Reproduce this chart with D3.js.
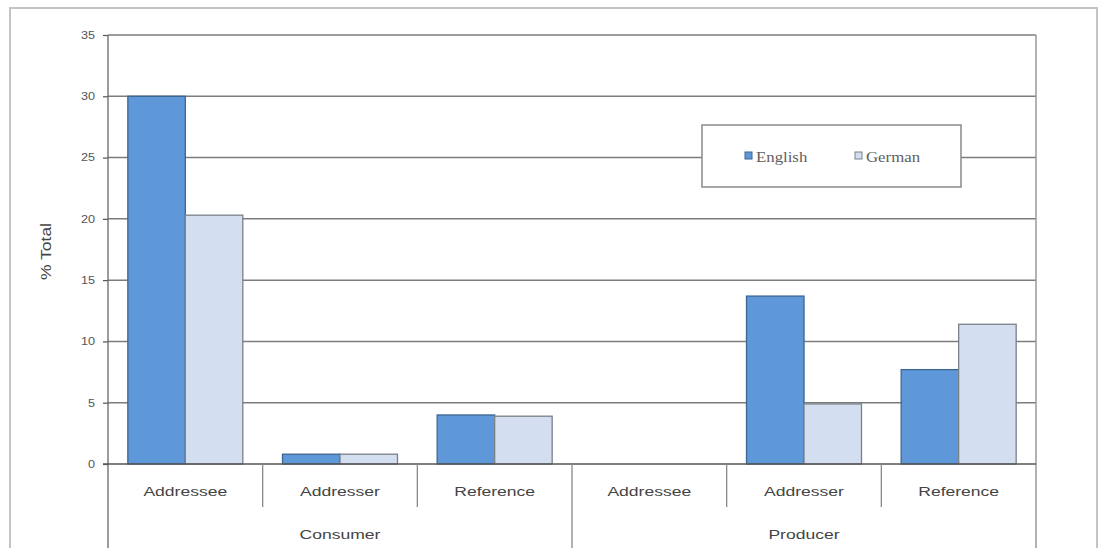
<!DOCTYPE html>
<html>
<head>
<meta charset="utf-8">
<script src="https://cdn.jsdelivr.net/npm/d3@7"></script>
<style>
  html, body { margin: 0; padding: 0; background: #fff; }
  svg { display: block; }
</style>
</head>
<body>
<svg id="chart" width="1101" height="548"></svg>
<script>
// Share of items by role, grouped by consumer / producer
const groups = ["Consumer", "Producer"];
const roles = ["Addressee", "Addresser", "Reference"];
const seriesNames = ["English", "German"];
const english = [30.0, 0.8, 4.0, 0, 13.7, 7.7];
const german  = [20.3, 0.8, 3.9, 0, 4.9, 11.4];
const yTicks = [0, 5, 10, 15, 20, 25, 30, 35];

const colors = { English: "#5f98d9", German: "#d3dff1" };
const strokes = { English: "#3d6590", German: "#7a8088" };
const SANS = "Liberation Sans, Arial, sans-serif";
const STRETCH = 1.3; // labels are drawn slightly wide

const svg = d3.select("#chart");
const W = 1101, H = 548;
const m = { left: 108, right: 1036, top: 35, bottom: 464 };

// horizontally stretched label anchored at (cx, cy)
function wideText(sel, cx, cy, str, opts) {
  return sel.append("text")
    .attr("transform", `translate(${cx},${cy}) scale(${opts.stretch || STRETCH},1)`)
    .attr("text-anchor", opts.anchor || "middle")
    .attr("dy", opts.dy || 0)
    .attr("font-family", opts.family || SANS)
    .attr("font-size", opts.size || 13)
    .attr("fill", opts.fill || "#444")
    .text(str);
}

// outer chart frame
svg.append("rect")
  .attr("x", 10).attr("y", 8)
  .attr("width", 1087).attr("height", H + 10)
  .attr("fill", "#fff").attr("stroke", "#c4c4c4").attr("stroke-width", 2);

// one slot per (group, role)
const slots = [];
groups.forEach(g => roles.forEach(r => slots.push(g + "|" + r)));
const rows = slots.map((s, i) => ({ key: s, group: s.split("|")[0], role: s.split("|")[1],
  English: english[i], German: german[i] }));

const x = d3.scaleBand().domain(slots).range([m.left, m.right]).padding(0);
const xs = d3.scaleBand().domain(seriesNames).range([0, x.bandwidth()])
  .paddingInner(0).paddingOuter(0.345);
const y = d3.scaleLinear().domain([0, 35]).range([m.bottom, m.top]);

// horizontal gridlines
svg.append("g").selectAll("line").data(yTicks.filter(t => t > 0)).join("line")
  .attr("x1", m.left).attr("x2", m.right)
  .attr("y1", d => y(d)).attr("y2", d => y(d))
  .attr("stroke", "#7c7c7c").attr("stroke-width", 1.5);

// right edge of plot area
svg.append("line")
  .attr("x1", m.right).attr("x2", m.right)
  .attr("y1", m.top).attr("y2", H)
  .attr("stroke", "#9a9a9a").attr("stroke-width", 1.5);

// bars
const barG = svg.append("g");
rows.forEach(row => {
  seriesNames.forEach(s => {
    if (row[s] <= 0) return;
    barG.append("rect")
      .attr("x", x(row.key) + xs(s))
      .attr("y", y(row[s]))
      .attr("width", xs.bandwidth())
      .attr("height", y(0) - y(row[s]))
      .attr("fill", colors[s])
      .attr("stroke", strokes[s])
      .attr("stroke-width", 1.3);
  });
});

// y axis ticks (labels drawn separately so they can be widened)
const yAxis = d3.axisLeft(y).tickValues(yTicks).tickSize(5).tickFormat("");
const ya = svg.append("g").attr("transform", `translate(${m.left},0)`).call(yAxis);
ya.select(".domain").remove();
ya.selectAll(".tick line").attr("stroke", "#555").attr("stroke-width", 1.2);
yTicks.forEach(t => {
  wideText(svg, m.left - 13, y(t), String(t),
    { anchor: "end", dy: "0.35em", size: 11, fill: "#555", stretch: 1.15 });
});
svg.append("line")
  .attr("x1", m.left).attr("x2", m.left).attr("y1", m.top).attr("y2", H)
  .attr("stroke", "#666").attr("stroke-width", 1.3);

// zero baseline
svg.append("line")
  .attr("x1", m.left - 5).attr("x2", m.right)
  .attr("y1", y(0)).attr("y2", y(0))
  .attr("stroke", "#555").attr("stroke-width", 1.3);

// y axis title
svg.append("text")
  .attr("transform", `translate(51,${(m.top + m.bottom) / 2 + 2}) rotate(-90) scale(1.25,1)`)
  .attr("text-anchor", "middle")
  .attr("font-family", SANS)
  .attr("font-size", 14).attr("fill", "#444")
  .text("% Total");

// category axis: inner role labels and dividers
const catG = svg.append("g");
rows.forEach((row, i) => {
  wideText(catG, x(row.key) + x.bandwidth() / 2, 496, row.role, { size: 13.5 });
  if (i % roles.length !== 0) {
    catG.append("line")
      .attr("x1", x(row.key)).attr("x2", x(row.key))
      .attr("y1", y(0)).attr("y2", 507)
      .attr("stroke", "#888").attr("stroke-width", 1.3);
  }
});

// category axis: group labels and full-height dividers
groups.forEach((g, gi) => {
  const first = x(g + "|" + roles[0]);
  const last = x(g + "|" + roles[roles.length - 1]) + x.bandwidth();
  wideText(catG, (first + last) / 2, 539, g, { size: 13.5 });
  if (gi > 0) {
    catG.append("line")
      .attr("x1", first).attr("x2", first)
      .attr("y1", y(0)).attr("y2", H)
      .attr("stroke", "#888").attr("stroke-width", 1.3);
  }
});

// legend
const lg = svg.append("g");
lg.append("rect")
  .attr("x", 702).attr("y", 125).attr("width", 259).attr("height", 62)
  .attr("fill", "#fff").attr("stroke", "#8a8a8a").attr("stroke-width", 1.5);
const legendX = { English: 745, German: 855 };
seriesNames.forEach(s => {
  lg.append("rect")
    .attr("x", legendX[s]).attr("y", 152).attr("width", 7).attr("height", 7)
    .attr("fill", colors[s]).attr("stroke", strokes[s]).attr("stroke-width", 1);
  wideText(lg, legendX[s] + 11, 162, s,
    { anchor: "start", family: "Liberation Serif, 'DejaVu Serif', serif",
      size: 14, fill: "#606060", stretch: 1.2 });
});
</script>
</body>
</html>
